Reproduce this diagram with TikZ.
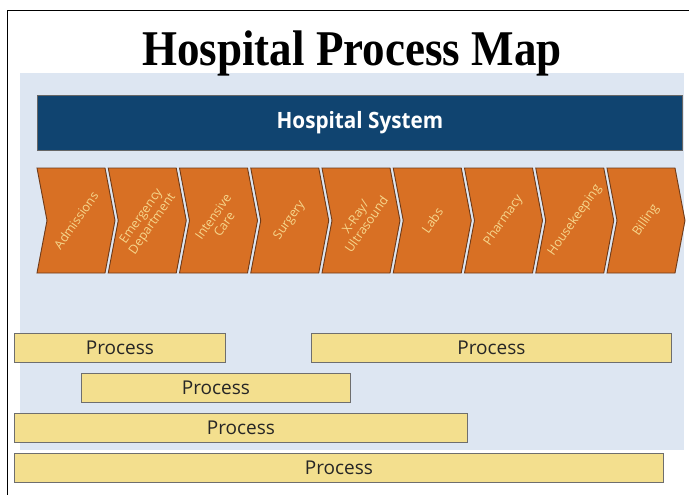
\documentclass[tikz,border=0pt]{standalone}
\usepackage{fontspec}
\setmainfont{Liberation Serif}
\setsansfont{Open Sans}
\definecolor{bgblue}{RGB}{221,230,242}
\definecolor{sysblue}{RGB}{16,68,112}
\definecolor{chevorange}{RGB}{216,112,36}
\definecolor{chevedge}{RGB}{110,58,24}
\definecolor{chevtext}{RGB}{246,214,140}
\definecolor{procyellow}{RGB}{243,223,142}
\definecolor{procedge}{RGB}{110,110,110}
\begin{document}
\begin{tikzpicture}[x=1pt,y=-1pt,
  chev/.style={fill=chevorange,draw=chevedge,line width=0.9pt,line join=miter},
  chevtxt/.style={text=chevtext,font=\sffamily\fontsize{12.5}{13.5}\selectfont,rotate=55,align=center,inner sep=0pt},
  procbar/.style={fill=procyellow,draw=procedge,line width=0.8pt,font=\sffamily\fontsize{19}{22}\selectfont,text=black!85,inner sep=0pt,anchor=north west,minimum height=29pt}]
\useasboundingbox (0,0) rectangle (689,495);
\fill[white] (0,0) rectangle (689,495);
\draw[line width=0.8pt] (7,495) -- (7,10) -- (689,10);
\fill[bgblue] (20,73) rectangle (684,450);
% title
\node[anchor=base,inner sep=0pt] (title) at (352,66)
  {\scalebox{0.9}[1]{\fontsize{50}{60}\selectfont\bfseries Hospital Process Map}};
% system bar
\node[fill=sysblue,draw=black!60,line width=0.8pt,anchor=north west,minimum width=645pt,minimum height=55pt,
  text=white,font=\sffamily\bfseries\fontsize{22.5}{26}\selectfont,inner sep=0pt] (sys) at (37,95) {\scalebox{0.92}[1]{Hospital System}};
% chevrons
\foreach \i/\lab in {0/Admissions,1/{Emergency\\Department},2/{Intensive\\Care},3/Surgery,4/{X-Ray/\\Ultrasound},5/Labs,6/Pharmacy,7/Housekeeping,8/Billing}{
  \pgfmathsetmacro{\L}{37+71.25*\i}
  \pgfmathsetmacro{\R}{\L+68}
  \draw[chev] (\L,168) -- (\R,168) -- (\R+10,220.5) -- (\R,273) -- (\L,273) -- (\L+10,220.5) -- cycle;
  \node[chevtxt] (c\i) at (\L+39,220.5) {\lab};
}
% process bars
\node[procbar,minimum width=211pt] (p1) at (14,333) {Process};
\node[procbar,minimum width=360pt] (p2) at (311,333) {Process};
\node[procbar,minimum width=269pt] (p3) at (81,373) {Process};
\node[procbar,minimum width=453pt] (p4) at (14,413) {Process};
\node[procbar,minimum width=649pt] (p5) at (14,453) {Process};
\end{tikzpicture}
\end{document}
